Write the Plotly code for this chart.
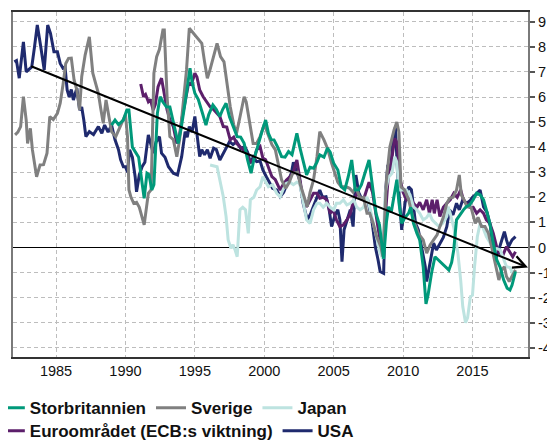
import plotly.graph_objects as go

# ---------------- data ----------------
usa_year = [1982.0, 1982.15, 1982.35, 1982.5, 1982.65, 1982.85, 1983.05, 1983.25, 1983.45, 1983.65, 1983.9, 1984.15, 1984.4, 1984.6, 1984.85,
            1985.1, 1985.3, 1985.5, 1985.65, 1985.8, 1985.95, 1986.1, 1986.25, 1986.5, 1986.7, 1986.85, 1987.0, 1987.15, 1987.4, 1987.7,
            1988.05, 1988.3, 1988.5, 1988.75, 1989.0, 1989.25, 1989.5, 1989.65, 1989.85, 1990.0, 1990.15, 1990.3, 1990.5, 1990.7, 1990.8,
            1991.0, 1991.2, 1991.4, 1991.65, 1991.8, 1992.0, 1992.2, 1992.45, 1992.6, 1992.85, 1993.1, 1993.45, 1993.75, 1994.05, 1994.3,
            1994.45, 1994.6, 1994.8, 1995.0, 1995.15, 1995.35, 1995.5, 1995.7, 1995.9, 1996.1, 1996.35, 1996.55, 1996.8, 1997.0, 1997.25,
            1997.5, 1997.75, 1998.0, 1998.3, 1998.6, 1998.8, 1999.0, 1999.2, 1999.45, 1999.7, 1999.9, 2000.15, 2000.4, 2000.6, 2000.9,
            2001.15, 2001.4, 2001.65, 2001.95, 2002.1, 2002.3, 2002.55, 2002.8, 2003.1, 2003.35, 2003.65, 2004.0, 2004.2, 2004.45, 2004.65,
            2004.85, 2005.1, 2005.3, 2005.45, 2005.6, 2005.75, 2006.0, 2006.2, 2006.4, 2006.6, 2006.8, 2007.0, 2007.2, 2007.45, 2007.75,
            2008.0, 2008.2, 2008.35, 2008.6, 2008.75, 2008.9, 2009.1, 2009.3, 2009.45, 2009.6, 2009.8, 2009.9, 2010.15, 2010.4, 2010.6,
            2010.9, 2011.1, 2011.35, 2011.6, 2011.7, 2011.95, 2012.2, 2012.4, 2012.65, 2012.9, 2013.15, 2013.35, 2013.6, 2013.85, 2014.05,
            2014.3, 2014.55, 2014.8, 2015.0, 2015.2, 2015.55, 2015.8, 2016.05, 2016.3, 2016.5, 2016.7, 2016.95, 2017.3, 2017.45, 2017.6,
            2017.85, 2018.1]
usa_val = [7.4, 7.45, 6.75, 7.6, 8.2, 7.0, 7.1, 7.2, 8.0, 8.87, 8.0, 7.08, 8.87, 8.54, 7.8,
           7.8, 7.34, 7.15, 7.2, 6.28, 6.0, 6.3, 5.88, 6.35, 5.48, 5.6, 5.08, 4.42, 4.62, 4.5,
           4.82, 4.55, 4.88, 4.6, 4.88, 4.29, 3.9, 3.5, 3.22, 3.22, 3.0, 3.89, 3.6, 2.82, 2.22,
           2.9, 3.22, 3.4, 4.49, 4.2, 3.76, 4.2, 4.42, 3.76, 3.6, 3.22, 2.96, 2.89, 3.62, 4.62,
           4.4, 4.82, 4.6, 5.22, 4.6, 3.62, 3.9, 3.69, 3.9, 3.56, 3.96, 3.9, 3.49, 3.7, 4.02,
           4.22, 4.1, 4.22, 3.95, 4.02, 3.8, 3.36, 3.6, 3.42, 3.45, 3.09, 2.82, 2.56, 2.36, 2.29,
           2.02, 2.2, 2.56, 2.96, 3.4, 3.1, 2.69, 1.76, 1.1, 1.36, 1.76, 2.29, 2.0, 2.02, 1.6,
           0.83, 1.29, 1.5, 1.1, -0.57, 0.7, 1.2, 1.5, 0.83, 2.89, 2.2, 1.96, 2.0, 1.9, 1.1,
           0.03, -0.5, -0.96, -1.03, 2.29, 3.29, 3.1, 4.42, 4.8, 3.0, 1.62, 0.7, 1.8, 2.42, 2.3,
           0.96, 0.7, -0.1, -0.77, -1.36, -0.6, 0.17, -0.1, 0.17, 0.4, 0.83, 1.5, 1.3, 1.76, 1.5,
           1.9, 1.75, 1.85, 2.0, 2.09, 2.29, 1.62, 1.4, 0.83, -0.23, -0.4, 0.0, 0.63, 0.3, 0.03,
           0.3, 0.43]

se_year = [1982.05, 1982.25, 1982.45, 1982.65, 1982.85, 1982.95, 1983.15, 1983.3, 1983.6, 1983.85, 1984.1, 1984.35, 1984.55, 1984.8,
           1985.1, 1985.3, 1985.5, 1985.7, 1985.9, 1986.1, 1986.3, 1986.5, 1986.7, 1986.85, 1987.1, 1987.4, 1987.65, 1987.85, 1988.05,
           1988.2, 1988.4, 1988.6, 1988.8, 1989.0, 1989.3, 1989.6, 1990.0, 1990.15, 1990.25, 1990.4, 1990.6, 1990.8, 1991.0, 1991.35,
           1991.45, 1991.65, 1991.85, 1992.05, 1992.25, 1992.45, 1992.7, 1992.8, 1993.0, 1993.2, 1993.45, 1993.7, 1993.9, 1994.15,
           1994.4, 1994.6, 1994.95, 1995.25, 1995.5, 1995.7, 1995.9, 1996.1, 1996.35, 1996.6, 1996.85, 1997.1, 1997.35, 1997.55,
           1997.8, 1998.0, 1998.25, 1998.55, 1998.7, 1998.95, 1999.2, 1999.45, 1999.7, 2000.0, 2000.3, 2000.55, 2000.8, 2001.0,
           2001.25, 2001.55, 2001.8, 2002.05, 2002.4, 2002.6, 2002.9, 2003.1, 2003.3, 2003.55, 2003.8, 2004.0, 2004.3, 2004.55,
           2004.85, 2005.1, 2005.3, 2005.55, 2005.9, 2006.15, 2006.4, 2006.6, 2006.9, 2007.15, 2007.4, 2007.6, 2007.85, 2008.1,
           2008.4, 2008.55, 2008.8, 2009.05, 2009.35, 2009.55, 2009.7, 2009.85, 2010.1, 2010.4, 2010.75, 2011.1, 2011.45, 2011.7,
           2011.95, 2012.2, 2012.45, 2012.65, 2012.9, 2013.15, 2013.35, 2013.6, 2013.85, 2014.05, 2014.2, 2014.4, 2014.6, 2014.9,
           2015.2, 2015.4, 2015.65, 2015.9, 2016.15, 2016.4, 2016.65, 2016.9, 2017.1, 2017.3, 2017.45, 2017.65, 2017.85, 2018.1]
se_val = [4.49, 4.6, 4.82, 6.01, 5.08, 4.15, 4.75, 3.89, 2.82, 3.29, 3.3, 3.76, 5.22, 5.1,
          5.35, 5.75, 6.48, 7.34, 7.54, 7.55, 6.68, 6.28, 5.48, 6.81, 7.68, 8.4, 6.95, 6.6, 6.15,
          5.61, 4.95, 5.88, 5.3, 4.62, 4.42, 4.82, 5.3, 4.4, 2.3, 2.0, 1.76, 1.8, 1.6, 0.9,
          1.4, 2.16, 2.3, 6.95, 7.61, 7.9, 8.67, 8.67, 6.01, 4.42, 4.3, 3.62, 4.29, 5.61,
          7.08, 8.74, 8.5, 8.34, 8.14, 7.4, 6.75, 7.1, 7.68, 8.14, 7.61, 7.4, 6.41, 5.61,
          4.9, 4.55, 5.2, 6.01, 5.8, 4.95, 4.15, 4.15, 4.42, 4.9, 4.42, 4.1, 3.89, 3.36,
          2.69, 2.36, 2.6, 2.96, 3.0, 2.5, 1.96, 1.62, 2.2, 2.69, 3.62, 4.62, 4.29, 3.96,
          3.36, 2.96, 2.6, 2.42, 2.42, 2.36, 2.2, 2.4, 1.96, 2.0, 1.36, 1.36, 0.96, 0.43,
          0.03, -0.37, 2.69, 4.02, 4.69, 5.0, 4.6, 2.42, 2.3, 1.9, 1.1, 0.56, 0.3, -0.23,
          0.1, 0.3, 0.5, 0.83, 1.2, 1.76, 1.96, 2.0, 2.29, 2.89, 2.09, 1.9, 1.62, 1.6,
          0.96, 1.2, 0.83, 0.83, 0.56, -0.03, -0.63, -1.3, -0.9, -0.77, -1.16, -1.36, -1.15, -0.9]

uk_year = [1989.0, 1989.25, 1989.5, 1989.85, 1990.1, 1990.25, 1990.5, 1990.75, 1990.95, 1991.2, 1991.35, 1991.55, 1991.7, 1991.9,
           1992.05, 1992.3, 1992.5, 1992.7, 1992.95, 1993.2, 1993.55, 1993.8, 1994.0, 1994.2, 1994.4, 1994.65, 1994.8, 1995.0,
           1995.25, 1995.55, 1995.8, 1996.0, 1996.3, 1996.55, 1996.8, 1997.0, 1997.25, 1997.5, 1997.75, 1998.05, 1998.3, 1998.55,
           1998.8, 1999.05, 1999.25, 1999.45, 1999.7, 1999.9, 2000.1, 2000.3, 2000.5, 2000.7, 2000.95, 2001.25, 2001.5, 2001.75,
           2002.0, 2002.35, 2002.55, 2002.8, 2003.05, 2003.3, 2003.55, 2003.8, 2004.0, 2004.3, 2004.55, 2004.75, 2005.0, 2005.3,
           2005.55, 2005.8, 2006.05, 2006.3, 2006.55, 2006.8, 2007.0, 2007.25, 2007.55, 2007.8, 2008.05, 2008.3, 2008.6, 2008.8,
           2008.95, 2009.15, 2009.35, 2009.55, 2009.7, 2009.9, 2010.15, 2010.4, 2010.55, 2010.75, 2011.0, 2011.2, 2011.45, 2011.65,
           2011.8, 2012.05, 2012.3, 2012.55, 2012.8, 2013.05, 2013.3, 2013.5, 2013.65, 2013.85, 2014.15, 2014.35, 2014.55, 2014.8,
           2015.05, 2015.3, 2015.55, 2015.8, 2016.0, 2016.25, 2016.5, 2016.75, 2017.0, 2017.25, 2017.5, 2017.7, 2017.85, 2018.1]
uk_val = [4.88, 5.08, 4.9, 5.08, 5.48, 5.48, 4.0, 3.76, 3.6, 2.56, 1.96, 2.96, 2.9, 2.29,
          2.5, 5.35, 6.01, 5.8, 5.61, 5.6, 4.69, 4.15, 4.7, 5.35, 6.15, 7.15, 6.6, 6.15,
          5.9, 5.35, 4.88, 5.3, 5.68, 5.5, 5.22, 5.5, 5.75, 5.2, 4.82, 4.42, 4.4, 4.15,
          3.49, 2.96, 3.5, 3.89, 4.42, 4.75, 5.08, 4.55, 4.3, 4.29, 4.02, 3.62, 3.6, 3.82,
          3.7, 4.55, 4.02, 3.4, 2.89, 3.2, 3.16, 3.4, 3.69, 3.6, 3.96, 3.8, 3.36, 3.09,
          2.42, 2.3, 2.82, 3.49, 2.29, 2.3, 2.5, 2.96, 3.49, 2.42, 1.36, 0.9, -0.45, 1.0,
          1.62, 1.4, 2.0, 2.7, 1.8, 0.96, 1.2, 1.36, 1.6, 0.96, 0.56, 0.3, -0.77, -2.25,
          -1.9, -1.03, -0.37, -0.5, -0.63, -0.75, -0.9, -0.6, -0.1, 1.1, 1.36, 1.5, 1.62, 1.7,
          1.9, 2.16, 2.1, 1.9, 1.5, 0.96, 0.17, -0.5, -0.8, -1.3, -1.63, -1.7, -1.5, -0.96]

ea_year = [1991.1, 1991.3, 1991.45, 1991.65, 1991.8, 1992.0, 1992.15, 1992.35, 1992.6, 1992.75, 1993.0, 1993.2, 1993.45, 1993.7,
           1993.85, 1994.05, 1994.3, 1994.55, 1994.75, 1995.0, 1995.15, 1995.35, 1995.6, 1995.85, 1996.1, 1996.35, 1996.6, 1996.8,
           1997.05, 1997.3, 1997.55, 1997.8, 1998.0, 1998.25, 1998.5, 1998.75, 1999.0, 1999.25, 1999.45, 1999.7, 1999.9, 2000.1,
           2000.3, 2000.55, 2000.8, 2001.15, 2001.35, 2001.6, 2001.85, 2002.1, 2002.35, 2002.55, 2002.8, 2003.05, 2003.3, 2003.55,
           2003.8, 2004.0, 2004.25, 2004.5, 2004.75, 2004.95, 2005.2, 2005.45, 2005.7, 2005.95, 2006.2, 2006.45, 2006.7, 2006.9,
           2007.15, 2007.4, 2007.55, 2007.8, 2008.05, 2008.3, 2008.55, 2008.7, 2008.95, 2009.15, 2009.4, 2009.55, 2009.8, 2010.0,
           2010.25, 2010.5, 2010.75, 2011.0, 2011.2, 2011.45, 2011.7, 2011.9, 2012.1, 2012.25, 2012.45, 2012.65, 2012.9, 2013.15,
           2013.4, 2013.65, 2013.9, 2014.15, 2014.35, 2014.55, 2014.8, 2015.05, 2015.3, 2015.55, 2015.8, 2016.0, 2016.25, 2016.5,
           2016.75, 2016.95, 2017.2, 2017.45, 2017.7, 2017.9, 2018.1]
ea_val = [6.52, 6.01, 6.1, 5.81, 5.9, 5.48, 5.7, 6.41, 6.75, 6.3, 5.48, 5.1, 4.82, 4.15,
          4.3, 5.08, 5.75, 6.55, 6.5, 6.95, 6.8, 6.28, 6.01, 5.8, 5.61, 5.5, 5.35, 5.22,
          4.82, 4.8, 4.29, 4.4, 4.15, 4.0, 3.89, 3.75, 3.4, 3.5, 3.89, 4.02, 3.56, 3.5,
          3.22, 2.82, 2.7, 2.29, 2.5, 2.69, 2.82, 3.0, 3.49, 2.69, 1.9, 1.62, 1.9, 2.16,
          2.16, 1.96, 2.0, 1.9, 1.36, 1.5, 1.1, 0.83, 0.9, 1.1, 1.36, 1.9, 2.16, 2.0,
          1.9, 2.29, 2.6, 2.2, 1.36, 0.43, -0.1, 1.0, 2.96, 3.4, 4.35, 4.2, 2.69, 2.2,
          1.9, 2.0, 1.76, 1.6, 1.8, 1.5, 1.9, 1.36, 1.9, 1.36, 1.9, 1.23, 1.6, 1.76,
          1.9, 2.16, 2.0, 2.29, 1.9, 1.76, 1.6, 1.6, 1.36, 1.5, 1.36, 1.1, 0.96, 0.56,
          0.0, -0.23, -0.3, 0.03, -0.2, -0.37, -0.17]

jp_year = [1996.1, 1996.35, 1996.6, 1996.8, 1997.05, 1997.25, 1997.4, 1997.6, 1997.75, 1997.9, 1998.05, 1998.25, 1998.45, 1998.65,
           1998.85, 1999.0, 1999.25, 1999.45, 1999.7, 1999.9, 2000.1, 2000.3, 2000.6, 2000.9, 2001.15, 2001.35, 2001.6, 2001.85,
           2002.1, 2002.35, 2002.55, 2002.8, 2003.05, 2003.3, 2003.55, 2003.8, 2004.0, 2004.25, 2004.5, 2004.75, 2005.0, 2005.2,
           2005.45, 2005.7, 2005.95, 2006.2, 2006.45, 2006.65, 2006.9, 2007.15, 2007.4, 2007.6, 2007.85, 2008.1, 2008.35, 2008.55,
           2008.7, 2008.95, 2009.2, 2009.4, 2009.55, 2009.7, 2009.95, 2010.25, 2010.5, 2010.75, 2011.0, 2011.2, 2011.45, 2011.7,
           2011.9, 2012.1, 2012.35, 2012.6, 2012.85, 2013.15, 2013.25, 2013.4, 2013.65, 2013.95, 2014.15, 2014.3, 2014.5, 2014.65,
           2014.85, 2015.0, 2015.15, 2015.35, 2015.55, 2015.75, 2016.0, 2016.25, 2016.5, 2016.75, 2017.0, 2017.25, 2017.45, 2017.7,
           2017.9, 2018.1]
jp_val = [3.29, 3.25, 3.22, 2.69, 2.02, 1.23, 0.3, -0.03, 0.1, -0.1, -0.37, 1.5, 1.6, 1.5,
          0.56, 1.9, 2.0, 2.29, 2.42, 2.82, 2.6, 2.42, 2.5, 2.16, 2.02, 2.3, 2.56, 2.6,
          2.5, 2.6, 2.56, 1.76, 1.1, 0.96, 1.5, 1.76, 1.76, 1.6, 1.76, 1.6, 1.5, 1.76,
          1.76, 1.9, 1.7, 1.76, 1.9, 1.62, 1.5, 1.6, 2.02, 1.6, 0.96, 0.3, -0.23, -0.45,
          2.16, 2.8, 2.96, 3.62, 3.4, 2.29, 2.3, 2.29, 2.1, 1.62, 1.5, 1.36, 1.1, 1.2,
          1.36, 1.1, 0.96, 0.83, 0.96, 1.23, 1.62, 1.36, 0.8, -0.23, -1.3, -2.36, -3.0, -2.8,
          -1.96, -1.9, -0.77, 0.43, 0.96, 0.8, 0.43, 0.2, -0.1, -0.05, -0.1, -0.5, -0.77, -0.8,
          -1.03, -0.9]

trend_year = [1983.1, 2019.0]
trend_val = [7.25, -0.8]

x_ticks = [1985, 1990, 1995, 2000, 2005, 2010, 2015]
x_ticklabels = ["1985", "1990", "1995", "2000", "2005", "2010", "2015"]
y_ticks = [-4, -3, -2, -1, 0, 1, 2, 3, 4, 5, 6, 7, 8, 9]
y_ticklabels = ["-4", "-3", "-2", "-1", "0", "1", "2", "3", "4", "5", "6", "7", "8", "9"]

# ---------------- figure ----------------
FONT = "Liberation Sans, Arial, sans-serif"
series = [
    # name, x, y, color, legend, legend rank   (drawn bottom -> top)
    ("USA", usa_year, usa_val, "#1F2A6E", "legend2", 2),
    ("Euroområdet (ECB:s viktning)", ea_year, ea_val, "#5C1F6B", "legend2", 1),
    ("Japan", jp_year, jp_val, "#BDE3E0", "legend", 3),
    ("Sverige", se_year, se_val, "#808080", "legend", 2),
    ("Storbritannien", uk_year, uk_val, "#00997A", "legend", 1),
]

fig = go.Figure()
for name, xs, ys, color, leg, rank in series:
    fig.add_trace(go.Scatter(x=xs, y=ys, mode="lines", name=name,
                             line=dict(color=color, width=3),
                             legend=leg, legendrank=rank, hoverinfo="skip"))

fig.add_annotation(x=trend_year[1], y=trend_val[1], ax=trend_year[0], ay=trend_val[0],
                   xref="x", yref="y", axref="x", ayref="y", text="",
                   showarrow=True, arrowhead=5, arrowsize=1.2, arrowwidth=2,
                   arrowcolor="black")

grid = dict(showgrid=True, gridcolor="#BDBDBD", gridwidth=1, griddash="4px,3px")
legend_style = dict(orientation="h", xanchor="left", yanchor="top",
                    font=dict(family=FONT, size=17, color="#111111", weight="bold"),
                    itemwidth=30, tracegroupgap=0, bgcolor="rgba(0,0,0,0)",
                    traceorder="normal")

# The page body has an 8px default margin, so the figure is made 8px smaller
# and its margins reduced to land the plot area where the reference has it.
fig.update_layout(
    width=547, height=433,
    margin=dict(l=5, r=27, t=4, b=84, autoexpand=False),
    paper_bgcolor="white", plot_bgcolor="white",
    font=dict(family=FONT, size=14, color="#111111"),
    showlegend=True,
    legend=dict(x=-0.045, y=-0.096, **legend_style),
    legend2=dict(x=-0.045, y=-0.163, **legend_style),
    xaxis=dict(range=[1981.9, 2019.0], tickvals=x_ticks, ticktext=x_ticklabels,
               showline=True, linecolor="#333333", linewidth=1.5, mirror=True,
               ticks="", zeroline=False, tickfont=dict(size=14.5), **grid),
    yaxis=dict(range=[-4.37, 9.39], tickvals=y_ticks, ticktext=y_ticklabels, side="right",
               showline=True, linecolor="#7A7A7A", linewidth=2, mirror=True,
               ticks="outside", ticklen=5, tickcolor="#555555", tickwidth=1.5,
               zeroline=True, zerolinecolor="black", zerolinewidth=1,
               tickfont=dict(size=14.5), **grid),
)

fig.write_html("out.html")
